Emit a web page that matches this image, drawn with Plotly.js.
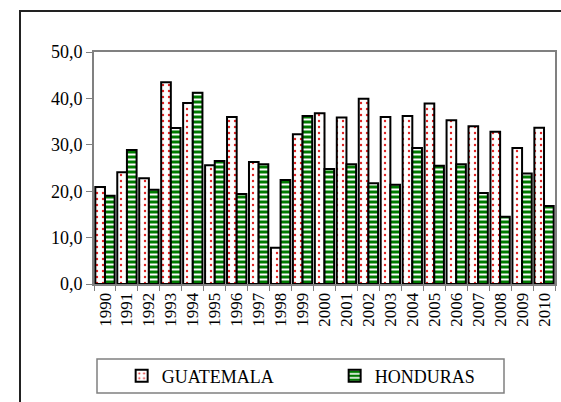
<!DOCTYPE html>
<html>
<head>
<meta charset="utf-8">
<script src="https://cdn.plot.ly/plotly-3.0.1.min.js"></script>
<style>
  html, body { margin: 0; padding: 0; background: #fff; overflow: hidden; }
  #frame { position: absolute; left: 19px; top: 10px; width: 700px; height: 600px; border: 2px solid #222; box-sizing: border-box; }
  #chart { position: absolute; left: 0; top: 0; width: 561px; height: 402px; }
</style>
</head>
<body>
<div id="frame"></div>
<div id="chart"></div>
<script>
const years = ['1990','1991','1992','1993','1994','1995','1996','1997','1998','1999','2000',
               '2001','2002','2003','2004','2005','2006','2007','2008','2009','2010'];
const guatemala = [20.9, 24.1, 22.8, 43.5, 39.0, 25.6, 36.0, 26.3, 7.8, 32.3, 36.8,
                   35.9, 39.9, 36.0, 36.2, 38.9, 35.3, 34.0, 32.8, 29.3, 33.7];
const honduras  = [19.0, 28.9, 20.3, 33.6, 41.2, 26.5, 19.4, 25.8, 22.4, 36.2, 24.8,
                   25.8, 21.7, 21.4, 29.3, 25.5, 25.8, 19.6, 14.5, 23.8, 16.8];
const seriesNames = ['GUATEMALA', 'HONDURAS'];

const serifFamily = 'serif';

const traces = [
  {
    type: 'bar', name: seriesNames[0], x: years, y: guatemala,
    marker: {
      color: '#ffffff',
      line: { color: '#000000', width: 2 },
      pattern: { shape: '.', fgcolor: '#e02020', bgcolor: '#ffffff', size: 6, solidity: 0.12, fillmode: 'replace' }
    },
    hoverinfo: 'x+y'
  },
  {
    type: 'bar', name: seriesNames[1], x: years, y: honduras,
    marker: {
      color: '#007a00',
      line: { color: '#000000', width: 2 },
      pattern: { shape: '-', fgcolor: '#ffffff', bgcolor: '#007a00', size: 5, solidity: 0.4, fillmode: 'replace' }
    },
    hoverinfo: 'x+y'
  }
];

const layout = {
  width: 561, height: 402,
  margin: { l: 94, r: 6, t: 52, b: 118 },
  paper_bgcolor: 'rgba(0,0,0,0)',
  plot_bgcolor: '#ffffff',
  separators: ',.',
  barmode: 'group',
  bargap: 0.12,
  bargroupgap: 0,
  font: { family: serifFamily, size: 15, color: '#000' },
  showlegend: true,
  legend: {
    orientation: 'h', x: 0.06, xanchor: 'left', y: -0.397, yanchor: 'middle',
    entrywidth: 168, font: { family: serifFamily, size: 18, color: '#000' },
    bgcolor: 'rgba(0,0,0,0)', borderwidth: 0
  },
  xaxis: {
    type: 'category',
    showline: true, linecolor: '#808080', linewidth: 2, mirror: true,
    ticks: 'outside', tickson: 'boundaries', ticklen: 5, tickcolor: '#808080', tickwidth: 1,
    tickangle: -90, showgrid: false, zeroline: false,
    tickfont: { family: serifFamily, size: 17, color: '#000' }
  },
  yaxis: {
    range: [0, 50], dtick: 10, tickformat: '.1f',
    showline: true, linecolor: '#808080', linewidth: 2, mirror: true,
    ticks: 'outside', ticklen: 6, tickcolor: '#808080', tickwidth: 1,
    showgrid: false, zeroline: false,
    tickfont: { family: serifFamily, size: 18, color: '#000' }
  },
  shapes: [
    { type: 'rect', xref: 'paper', yref: 'paper',
      x0: (97 - 94) / 461, x1: (504 - 94) / 461, y0: (284 - 393) / 232, y1: (284 - 359) / 232,
      line: { color: '#808080', width: 1.5 }, fillcolor: 'rgba(0,0,0,0)' }
  ]
};

Plotly.newPlot('chart', traces, layout, { displayModeBar: false, staticPlot: true });
</script>
</body>
</html>
